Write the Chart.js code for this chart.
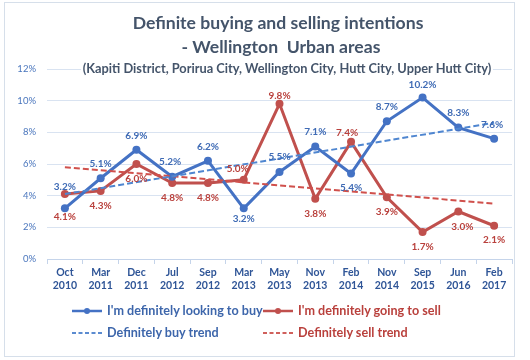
<!DOCTYPE html>
<html>
<head>
<meta charset="utf-8">
<script src="https://cdn.jsdelivr.net/npm/chart.js@4"></script>
<style>
  html,body{margin:0;padding:0;background:#fff;}
  #wrap{position:relative;width:530px;height:360px;overflow:hidden;font-family:Lato,"Open Sans",sans-serif;}
  #frame{position:absolute;left:4px;top:2px;width:509px;height:353px;border:1px solid #d6dfea;}
  canvas{position:absolute;left:0;top:0;}
  .t{position:absolute;left:0;width:530px;text-align:center;color:#44546a;font-weight:700;white-space:nowrap;}
  #t1{top:12px;font-size:17.6px;left:13px;}
  #t2{top:36px;font-size:17.6px;left:16px;}
  #t3{top:60px;font-size:12.8px;left:22px;}
  #t3 span{background:#fff;padding:0 2px;}
  .lg{position:absolute;display:flex;align-items:center;font-size:12.6px;font-weight:700;white-space:nowrap;}
  .lg svg{margin-right:5px;}
</style>
</head>
<body>
<div id="wrap">
  <div id="frame"></div>
  <canvas id="c" width="530" height="360"></canvas>
  <div class="t" id="t1">Definite buying and selling intentions</div>
  <div class="t" id="t2">- Wellington&nbsp; Urban areas</div>
  <div class="t" id="t3"><span>(Kapiti District, Porirua City, Wellington City, Hutt City, Upper Hutt City)</span></div>
  <div class="lg" style="left:72px;top:303px;color:#3d66ab">
    <svg width="30" height="10"><line x1="0" y1="5" x2="30" y2="5" stroke="#4472c4" stroke-width="2.5"/><circle cx="15" cy="5" r="3" fill="#4472c4"/></svg>I'm definitely looking to buy</div>
  <div class="lg" style="left:263px;top:303px;color:#b9403c">
    <svg width="30" height="10"><line x1="0" y1="5" x2="30" y2="5" stroke="#c0504d" stroke-width="2.5"/><circle cx="15" cy="5" r="3" fill="#c0504d"/></svg>I'm definitely going to sell</div>
  <div class="lg" style="left:72px;top:325px;color:#3d66ab">
    <svg width="30" height="10"><line x1="0" y1="5" x2="30" y2="5" stroke="#5b8bd0" stroke-width="1.8" stroke-dasharray="4,2.5"/></svg>Definitely buy trend</div>
  <div class="lg" style="left:263px;top:325px;color:#b9403c">
    <svg width="30" height="10"><line x1="0" y1="5" x2="30" y2="5" stroke="#d0605c" stroke-width="1.8" stroke-dasharray="4,2.5"/></svg>Definitely sell trend</div>
</div>
<script>
const categories = [['Oct','2010'],['Mar','2011'],['Dec','2011'],['Jul','2012'],['Sep','2012'],['Mar','2013'],['May','2013'],['Nov','2013'],['Feb','2014'],['Nov','2014'],['Sep','2015'],['Jun','2016'],['Feb','2017']];
const buyValues  = [3.2, 5.1, 6.9, 5.2, 6.2, 3.2, 5.5, 7.1, 5.4, 8.7, 10.2, 8.3, 7.6];
const sellValues = [4.1, 4.3, 6.0, 4.8, 4.8, 5.0, 9.8, 3.8, 7.4, 3.9, 1.7, 3.0, 2.1];
// trend lines: only their two end values
const buyTrend  = [4.1, null, null, null, null, null, null, null, null, null, null, null, 8.6];
const sellTrend = [5.8, null, null, null, null, null, null, null, null, null, null, null, 3.5];
const yTickValues = [0, 2, 4, 6, 8, 10, 12];

const BLUE = '#4472c4', RED = '#c0504d';

const labelPlugin = {
  id: 'pointLabels',
  afterDatasetsDraw(chart, args, opts) {
    const ctx = chart.ctx;
    ctx.save();
    ctx.font = '700 10px Lato, "Open Sans", sans-serif';
    ctx.textAlign = 'center';
    ctx.textBaseline = 'middle';
    opts.sets.forEach(s => {
      const meta = chart.getDatasetMeta(s.index);
      const vals = chart.data.datasets[s.index].data;
      ctx.fillStyle = s.color;
      meta.data.forEach((pt, i) => {
        const off = s.offsets[i];
        ctx.fillText(vals[i].toFixed(1) + '%', pt.x + off[0], pt.y + off[1]);
      });
    });
    ctx.restore();
  }
};

new Chart(document.getElementById('c'), {
  type: 'line',
  data: {
    labels: categories,
    datasets: [
      { label: "I'm definitely looking to buy", data: buyValues, borderColor: BLUE, backgroundColor: BLUE,
        borderWidth: 3, pointRadius: 4, pointBorderWidth: 0, tension: 0, order: 2 },
      { label: "I'm definitely going to sell", data: sellValues, borderColor: RED, backgroundColor: RED,
        borderWidth: 3, pointRadius: 4, pointBorderWidth: 0, tension: 0, order: 3 },
      { label: 'Definitely buy trend', data: buyTrend, borderColor: '#4f86d0', borderWidth: 2,
        borderDash: [6, 3], pointRadius: 0, spanGaps: true, order: 0 },
      { label: 'Definitely sell trend', data: sellTrend, borderColor: '#d0504c', borderWidth: 2,
        borderDash: [6, 3], pointRadius: 0, spanGaps: true, order: 1 }
    ]
  },
  options: {
    responsive: false,
    animation: false,
    events: [],
    layout: { padding: { left: 0, right: 18, top: 69, bottom: 0 } },
    plugins: {
      legend: { display: false },
      title: { display: false },
      tooltip: { enabled: false },
      pointLabels: {
        sets: [
          { index: 0, color: '#3f6bb5', offsets: [[0,-22],[0,-14],[0,-14],[-2,-15],[0,-14],[0,10],[0,-15],[0,-15],[0,14],[0,-14],[0,-13],[0,-15],[-2,-14]] },
          { index: 1, color: '#b9403c', offsets: [[0,23],[0,15],[0,15],[0,15],[0,15],[-6,-11],[0,-8],[0,15],[-4,-9],[0,15],[0,15],[4,15],[0,14]] }
        ]
      }
    },
    scales: {
      x: {
        offset: true,
        afterFit(s) { s.height = 101; },
        grid: { display: true, drawOnChartArea: false, offset: true, tickLength: 5, color: '#c5d4ea' },
        border: { display: true, color: '#c5d4ea' },
        ticks: { color: '#2f5597', padding: 2, maxRotation: 0, autoSkip: false,
                 font: { family: 'Lato', size: 10.5, weight: '700', lineHeight: 1.25 } }
      },
      y: {
        min: 0, max: 12,
        afterFit(s) { s.width = 47; },
        afterBuildTicks(s) { s.ticks = yTickValues.map(v => ({ value: v })); },
        grid: { color: '#d9e3f1', drawTicks: false },
        border: { display: false },
        ticks: { color: '#4a76bd', padding: 11, callback: v => v + '%',
                 font: { family: 'Lato', size: 9.5 } }
      }
    }
  },
  plugins: [labelPlugin]
});
</script>
</body>
</html>
